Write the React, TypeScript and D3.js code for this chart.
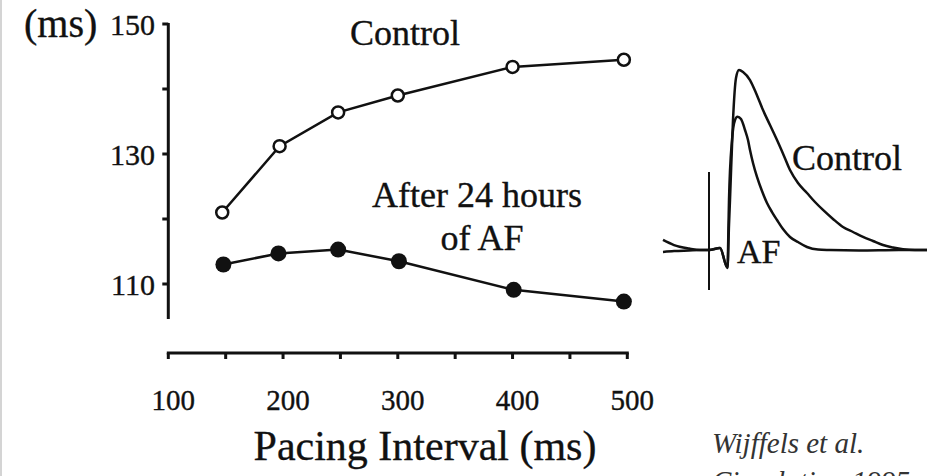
import React from "react";
import * as d3 from "d3";

// ---- Data ----
const pacingControl = [147, 197, 248, 300, 400, 497];
const apdControl = [121.0, 131.2, 136.4, 139.0, 143.4, 144.5];
const pacingAF = [148, 196, 248, 301, 401, 497];
const apdAF = [113.0, 114.7, 115.3, 113.5, 109.1, 107.3];

const yTickValues = [110, 120, 130, 140, 150];
const yTickLabels = [110, 130, 150];
const xTickValues = [100, 150, 200, 250, 300, 350, 400, 450, 500];
const xTickLabels = [100, 200, 300, 400, 500];

// Inset action potential traces: time (ms, relative to stimulus) and voltage (mV)
const controlTime = [-46, -35, -20, -9, 0, 11, 18.5, 20, 21, 24, 27, 30, 34, 41, 47, 54, 61, 68, 75, 81, 89, 98, 106, 114, 124, 134, 144, 154, 164, 174, 184, 194, 206, 218];
const controlVolt = [-73.3, -76.7, -79, -80, -80, -78.7, -92, -63.3, -46.7, 6.7, 34.7, 40, 38.7, 33.3, 24.7, 13.3, 3.3, -6.7, -17.3, -26.7, -35.3, -42, -48, -53.3, -59.3, -64.7, -68, -71.3, -74, -76.7, -78.3, -79.5, -80, -80];
const afTime = [-46, -35, -20, -9, 0, 11, 18.5, 19.5, 20, 23, 26, 28.5, 32, 36, 39, 41, 44, 48, 53, 58, 63, 68, 74, 81, 89, 98, 109, 121, 150, 190, 218];
const afVolt = [-81.3, -80.7, -80.3, -80, -80, -78.7, -92, -63.3, -46.7, -6.7, 6.7, 8.9, 7.3, 0, -6.7, -13.3, -22, -31.3, -40.7, -48.7, -54.7, -60, -66, -71.3, -74.7, -78, -79.7, -80, -80.3, -80, -80];
const stimTime = [0, 0];
const stimVolt = [-28, -106.7];

const FONT = "'Liberation Serif', 'Times New Roman', serif";
const INK = "#111";

export default function App() {
  const W = 933;
  const H = 476;

  const x = d3.scaleLinear().domain([100, 500]).range([168.3, 627.3]);
  const y = d3.scaleLinear().domain([110, 150]).range([284, 24]);
  const yAxisBottom = 104.6;
  const xAxisY = 353;

  const line = d3
    .line<[number, number]>()
    .x((d) => x(d[0]))
    .y((d) => y(d[1]));

  const ctrlPts = pacingControl.map((p, i) => [p, apdControl[i]] as [number, number]);
  const afPts = pacingAF.map((p, i) => [p, apdAF[i]] as [number, number]);

  // inset scales
  const tx = d3.scaleLinear().domain([0, 218]).range([709, 927]);
  const vy = d3.scaleLinear().domain([-80, 40]).range([250, 70]);
  const traceLine = d3
    .line<[number, number]>()
    .x((d) => tx(d[0]))
    .y((d) => vy(d[1]))
    .curve(d3.curveMonotoneX);
  const ctrlTrace = controlTime.map((t, i) => [t, controlVolt[i]] as [number, number]);
  const afTrace = afTime.map((t, i) => [t, afVolt[i]] as [number, number]);
  const stimTrace = stimTime.map((t, i) => [t, stimVolt[i]] as [number, number]);
  const straight = d3
    .line<[number, number]>()
    .x((d) => tx(d[0]))
    .y((d) => vy(d[1]));

  const textStroke = { stroke: INK, strokeWidth: 0.35 };

  return (
    <div style={{ position: "fixed", left: 0, top: 0, width: W, height: H, background: "#fff" }}>
      <svg width={W} height={H} style={{ display: "block" }} fontFamily={FONT}>
        <rect x={0} y={0} width={W} height={H} fill="#fff" />
        <rect x={0} y={0} width={2} height={H} fill="#d4d4d4" />

        {/* Y axis */}
        <line x1={x(100)} x2={x(100)} y1={y(150) - 1} y2={y(yAxisBottom)} stroke={INK} strokeWidth={3} />
        {yTickValues.map((v) => (
          <line key={v} x1={x(100) - 6} x2={x(100)} y1={y(v)} y2={y(v)} stroke={INK} strokeWidth={3} />
        ))}
        {yTickLabels.map((v) => (
          <text key={v} x={155} y={y(v) + 11} textAnchor="end" fontSize={30} fill={INK} {...textStroke}>
            {v}
          </text>
        ))}
        <text x={24} y={37} fontSize={40} fill={INK} {...textStroke}>
          (ms)
        </text>

        {/* X axis */}
        <line x1={x(100) - 1.5} x2={x(500) + 1.5} y1={xAxisY} y2={xAxisY} stroke={INK} strokeWidth={3} />
        {xTickValues.map((v) => (
          <line key={v} x1={x(v)} x2={x(v)} y1={xAxisY} y2={xAxisY + 6} stroke={INK} strokeWidth={3} />
        ))}
        {xTickLabels.map((v) => (
          <text key={v} x={x(v) + 5} y={410} textAnchor="middle" fontSize={29} fill={INK} {...textStroke}>
            {v}
          </text>
        ))}
        <text x={425} y={460} textAnchor="middle" fontSize={42} fill={INK} {...textStroke}>
          Pacing Interval (ms)
        </text>

        {/* Series */}
        <path d={line(ctrlPts) || ""} fill="none" stroke={INK} strokeWidth={2.5} />
        <path d={line(afPts) || ""} fill="none" stroke={INK} strokeWidth={2.5} />
        {ctrlPts.map((d, i) => (
          <circle key={i} cx={x(d[0])} cy={y(d[1])} r={6} fill="#fff" stroke={INK} strokeWidth={2.5} />
        ))}
        {afPts.map((d, i) => (
          <circle key={i} cx={x(d[0])} cy={y(d[1])} r={8} fill={INK} />
        ))}

        {/* Annotations */}
        <text x={405} y={45} textAnchor="middle" fontSize={36} fill={INK} {...textStroke}>
          Control
        </text>
        <text x={477} y={207} textAnchor="middle" fontSize={36} fill={INK} {...textStroke}>
          After 24 hours
        </text>
        <text x={482} y={250} textAnchor="middle" fontSize={36} fill={INK} {...textStroke}>
          of AF
        </text>

        {/* Inset traces */}
        <path d={straight(stimTrace) || ""} fill="none" stroke={INK} strokeWidth={2} />
        <path d={traceLine(ctrlTrace) || ""} fill="none" stroke={INK} strokeWidth={2.5} />
        <path d={traceLine(afTrace) || ""} fill="none" stroke={INK} strokeWidth={2.5} />
        <text x={792} y={170} fontSize={36} fill={INK} {...textStroke}>
          Control
        </text>
        <text x={737} y={263} fontSize={34} fill={INK} {...textStroke}>
          AF
        </text>

        {/* Citation */}
        <text x={712} y={453} fontSize={29} fontStyle="italic" fill="#333">
          Wijffels et al.
        </text>
        <text x={712} y={491} fontSize={29} fontStyle="italic" fill="#333">
          Circulation 1995
        </text>
      </svg>
    </div>
  );
}
